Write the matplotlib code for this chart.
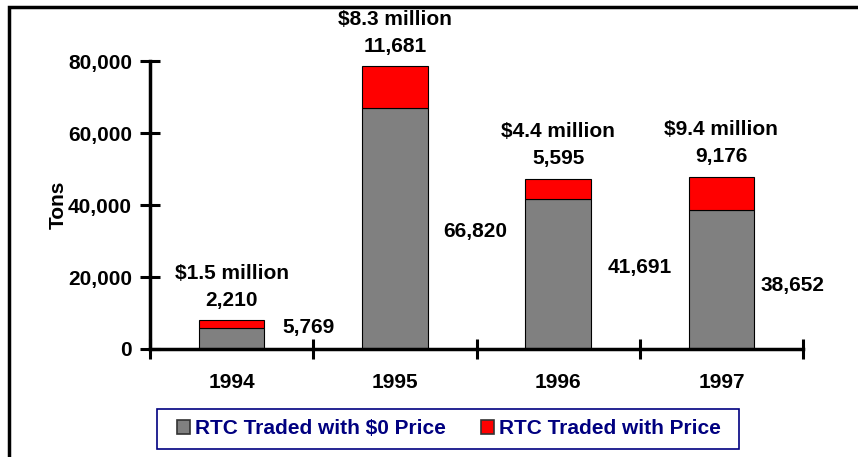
import numpy as np
import matplotlib.pyplot as plt
from matplotlib.patches import Rectangle

plt.rcParams['font.family'] = ['Liberation Sans', 'DejaVu Sans']
plt.rcParams['font.weight'] = 'bold'

years = ['1994', '1995', '1996', '1997']
zero_price = [5769, 66820, 41691, 38652]
with_price = [2210, 11681, 5595, 9176]
dollars = ['$1.5 million', '$8.3 million', '$4.4 million', '$9.4 million']

# where the gray-segment value labels sit (data units) and their x gap (points)
side_label_y = [6100, 32500, 22500, 17500]
side_label_dx = [13, 11, 12, 5]

fs = 15

fig = plt.figure(figsize=(8.58, 4.57), dpi=100)
ax = fig.add_axes([150 / 858, 1 - 349 / 457, 653 / 858, 288 / 457])

x = np.arange(len(years))
w = 0.4
ax.bar(x, zero_price, width=w, color='#808080', edgecolor='black', linewidth=0.8)
ax.bar(x, with_price, width=w, bottom=zero_price, color='#ff0000',
       edgecolor='black', linewidth=0.8)

for i in range(len(years)):
    top = zero_price[i] + with_price[i]
    ax.annotate(f'{with_price[i]:,}', (x[i], top), xytext=(0, 14.5),
                textcoords='offset points', ha='center', va='center',
                fontsize=fs, fontweight='bold')
    ax.annotate(dollars[i], (x[i], top), xytext=(0, 34),
                textcoords='offset points', ha='center', va='center',
                fontsize=fs, fontweight='bold')
    ax.annotate(f'{zero_price[i]:,}', (x[i] + w / 2, side_label_y[i]),
                xytext=(side_label_dx[i], 0), textcoords='offset points',
                ha='left', va='center', fontsize=fs, fontweight='bold')

ax.set_xlim(-0.5, 3.5)
ax.set_ylim(0, 80000)
ax.set_yticks(np.arange(0, 80001, 20000))
ax.set_yticklabels([f'{v:,}' for v in range(0, 80001, 20000)])
ax.set_xticks(np.arange(-0.5, 3.6, 1))
ax.set_xticklabels([])
ax.set_xticks(x, minor=True)
ax.set_xticklabels(years, minor=True)
ax.tick_params(axis='x', which='minor', length=0, pad=17, labelsize=fs)
ax.tick_params(axis='x', which='major', direction='inout', length=14, width=2.2)
ax.tick_params(axis='y', direction='inout', length=14, width=2.2, pad=6, labelsize=fs)

for s in ['top', 'right']:
    ax.spines[s].set_visible(False)
for s in ['left', 'bottom']:
    ax.spines[s].set_linewidth(2.5)

ax.set_ylabel('Tons', fontsize=fs, fontweight='bold')
ax.yaxis.set_label_coords((68 - 150) / 653, 0.5)

handles = [Rectangle((0, 0), 1, 1, facecolor='#808080', edgecolor='#333333', linewidth=1.2),
           Rectangle((0, 0), 1, 1, facecolor='#ff0000', edgecolor='#333333', linewidth=1.2)]
leg = fig.legend(handles, ['RTC Traded with $0 Price', 'RTC Traded with Price'],
                 loc='center', bbox_to_anchor=(449 / 858, 1 - 429 / 457), ncol=2,
                 frameon=False,
                 handlelength=0.62, handleheight=0.62, handletextpad=0.25,
                 columnspacing=1.65, borderpad=0.45, borderaxespad=0,
                 prop={'size': fs, 'weight': 'bold'})
for t in leg.get_texts():
    t.set_color('#000080')

# legend box
fig.patches.append(Rectangle((157 / 858, 1 - 449 / 457), 582 / 858, 40 / 457,
                             transform=fig.transFigure, fill=False,
                             edgecolor='#000080', linewidth=1.2))

# outer frame
fig.patches.append(Rectangle((9 / 858, -0.1), 1.1, 1 - 7 / 457 + 0.1,
                             transform=fig.transFigure, fill=False,
                             edgecolor='black', linewidth=2.5))

fig.savefig('out.png', dpi=100)
